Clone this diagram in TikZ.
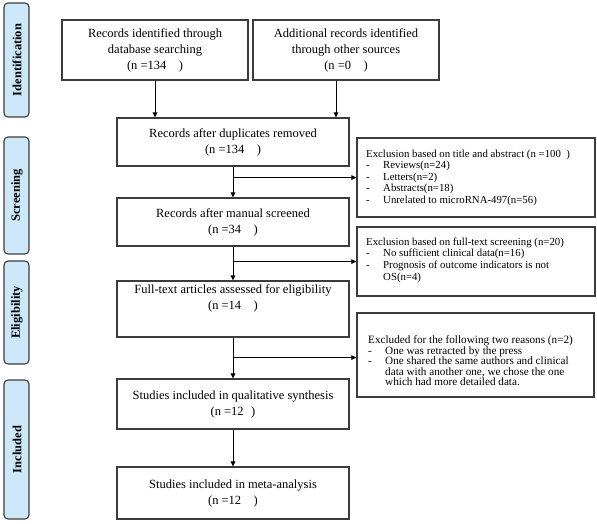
\documentclass[tikz,border=0pt]{standalone}
\usepackage{fontspec}
\setmainfont{Liberation Serif}
\usetikzlibrary{arrows.meta}
\definecolor{phasefill}{HTML}{CDE8F8}
\definecolor{edgegray}{HTML}{3C3C3C}
\tikzset{
  mainbox/.style={draw=edgegray, line width=1.1pt, align=center, inner sep=0pt,
    font=\fontsize{12.5}{16}\selectfont},
  exclbox/.style={draw=edgegray, line width=1.1pt},
  excltext/.style={align=left, inner sep=0pt, anchor=north west,
    font=\fontsize{10.8}{11.6}\selectfont},
  phase/.style={draw=edgegray, line width=1.1pt, fill=phasefill, rounded corners=4pt},
  phasetext/.style={rotate=90, font=\fontsize{12.5}{14}\selectfont\bfseries},
  arr/.style={line width=1pt, -{Triangle[length=5pt,width=4.5pt]}},
}
\newcommand{\dashitem}{\makebox[17pt][l]{-}}
\newcommand{\contitem}{\makebox[17pt][l]{}}
\begin{document}
\begin{tikzpicture}[x=1pt,y=-1pt]
\useasboundingbox (0,0) rectangle (597,524);
% phase labels
\draw[phase] (4,3) rectangle (29,117);
\node[phasetext] (pid) at (17,60) {Identification};
\draw[phase] (4,137) rectangle (29,254);
\node[phasetext] (psc) at (17,195.5) {Screening};
\draw[phase] (4,261) rectangle (29,364);
\node[phasetext] (pel) at (17,312.5) {Eligibility};
\draw[phase] (4,380) rectangle (29,519);
\node[phasetext] (pin) at (17,449.5) {Included};
% main boxes
\node[mainbox, minimum width=186pt, minimum height=60pt] (b1) at (155,50)
  {Records identified through\\database searching\\(n =134\hspace{1em})};
\node[mainbox, minimum width=186pt, minimum height=60pt] (b2) at (346,50)
  {Additional records identified\\through other sources\\(n =0\hspace{1em})};
\node[mainbox, minimum width=232pt, minimum height=48pt] (b3) at (233,142)
  {Records after duplicates removed\\(n =134\hspace{1em})};
\node[mainbox, minimum width=232pt, minimum height=48pt] (b4) at (233,222)
  {Records after manual screened\\(n =34\hspace{1em})};
\node[mainbox, minimum width=232pt, minimum height=56pt] (b5) at (233,309)
  {Full-text articles assessed for eligibility\\(n =14\hspace{1em})\\[8pt]};
\node[mainbox, minimum width=232pt, minimum height=50pt] (b6) at (233,404)
  {Studies included in qualitative synthesis\\(n =12\hspace{0.6em})};
\node[mainbox, minimum width=232pt, minimum height=52pt] (b7) at (233,493)
  {Studies included in meta-analysis\\(n =12\hspace{1em})};
% exclusion boxes
\node[exclbox, minimum width=238pt, minimum height=79pt, inner sep=0pt] (e1) at (476,177.5) {};
\node[excltext] (t1) at (366,149.5)
  {Exclusion based on title and abstract (n =100\hspace{0.5em})\\
   \dashitem Reviews(n=24)\\
   \dashitem Letters(n=2)\\
   \dashitem Abstracts(n=18)\\
   \dashitem Unrelated to microRNA-497(n=56)};
\node[exclbox, minimum width=238pt, minimum height=69pt, inner sep=0pt] (e2) at (476,261.5) {};
\node[excltext] (t2) at (366,237.5)
  {Exclusion based on full-text screening (n=20)\\
   \dashitem No sufficient clinical data(n=16)\\
   \dashitem Prognosis of outcome indicators is not\\
   \contitem OS(n=4)};
\node[exclbox, minimum width=237pt, minimum height=84pt, inner sep=0pt] (e3) at (475.5,355) {};
\node[excltext, font=\fontsize{11.2}{10.6}\selectfont] (t3) at (368,335.5)
  {Excluded for the following two reasons (n=2)\\
   \dashitem One was retracted by the press\\
   \dashitem One shared the same authors and clinical\\
   \contitem data with another one, we chose the one\\
   \contitem which had more detailed data.};
% connectors
\draw[arr] (b1.south) -- (b1.south |- b3.north);
\draw[arr] ([xshift=-10pt]b2.south) -- ([xshift=-10pt]b2.south |- b3.north);
\draw[arr] (b3) -- (b4);
\draw[arr] (b4) -- (b5);
\draw[arr] (b5) -- (b6);
\draw[arr] (b6) -- (b7);
\draw[arr] ([yshift=-11pt]b3.south) -- ([yshift=-11pt]b3.south -| e1.west);
\draw[arr] ([yshift=-15pt]b4.south) -- ([yshift=-15pt]b4.south -| e2.west);
\draw[arr] ([yshift=-20pt]b5.south) -- ([yshift=-20pt]b5.south -| e3.west);
\end{tikzpicture}
\end{document}
